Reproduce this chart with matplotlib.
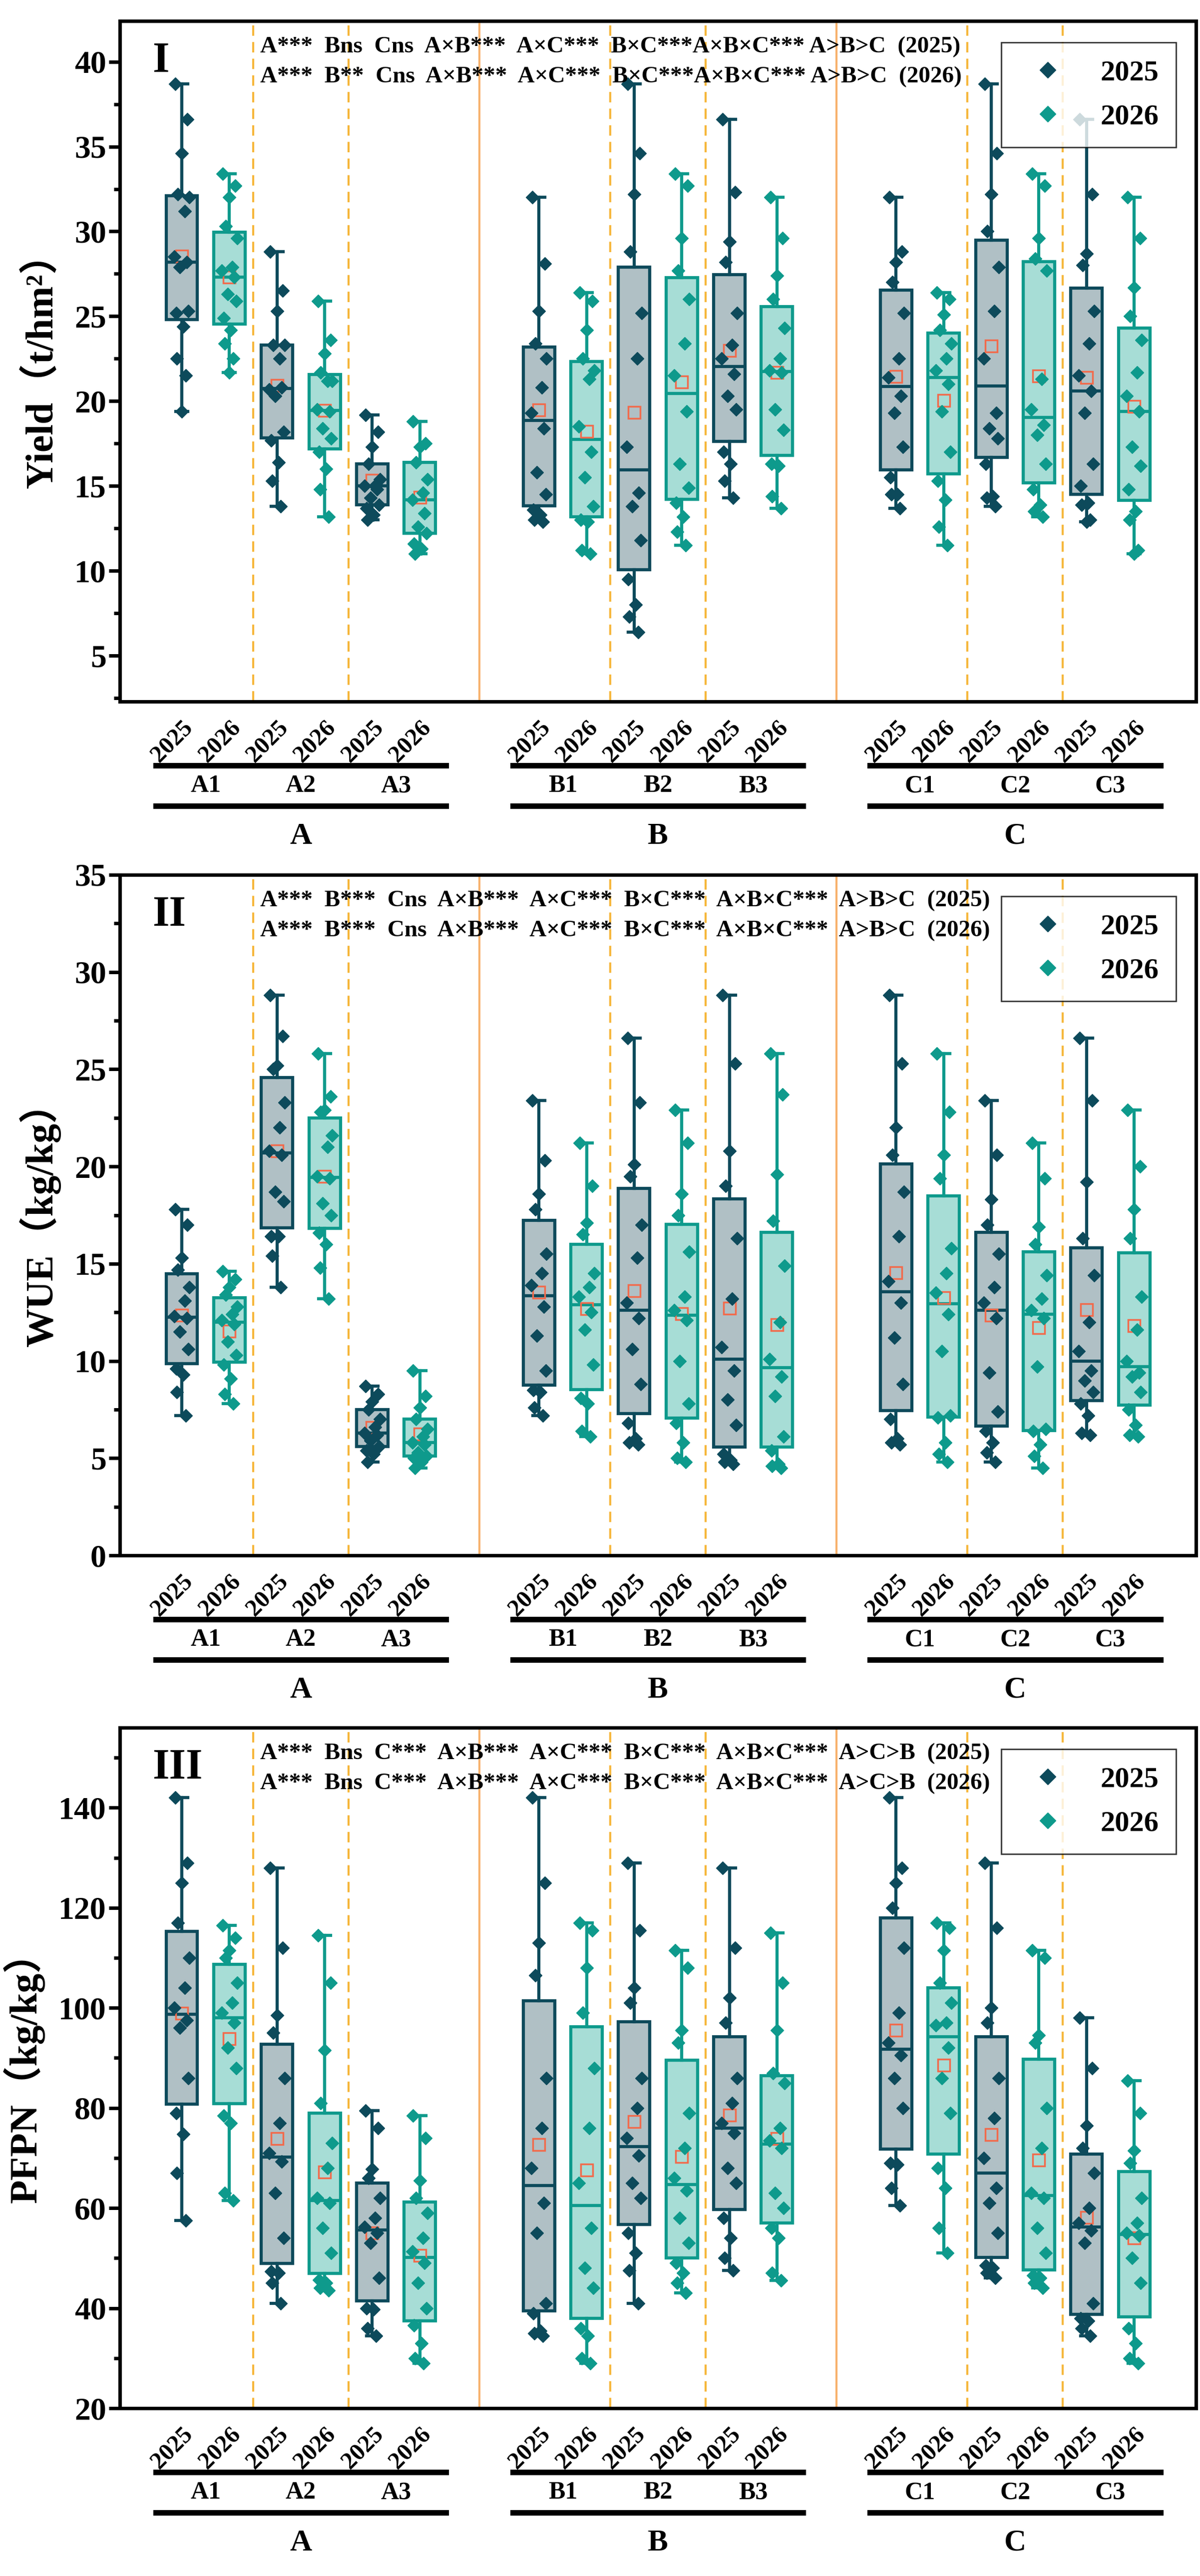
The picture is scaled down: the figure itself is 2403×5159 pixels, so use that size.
import numpy as np
import matplotlib.pyplot as plt
import matplotlib.transforms as mtransforms
from matplotlib.lines import Line2D

plt.rcParams['font.family'] = ['Liberation Serif', 'Noto Sans CJK SC']
plt.rcParams['font.weight'] = 'bold'

GROUPS = ['A', 'B', 'C']
LEVELS = [['A1', 'A2', 'A3'], ['B1', 'B2', 'B3'], ['C1', 'C2', 'C3']]
YEARS = ['2025', '2026']

# ---- Yield (t/hm2), boxes in order A1..A3, B1..B3, C1..C3
yield_2025 = [
    [38.7, 36.6, 34.6, 32.2, 32.0, 31.2, 28.5, 28.2, 27.9, 25.3, 25.2, 24.4, 22.5, 21.5, 19.4],
    [28.8, 26.5, 25.3, 23.3, 23.3, 22.5, 20.7, 20.8, 20.3, 18.2, 17.7, 16.4, 15.3, 13.8],
    [19.2, 18.2, 17.3, 16.3, 15.4, 15.0, 15.0, 14.8, 14.3, 13.9, 13.7, 13.3, 13.0],
    [32.0, 28.1, 25.3, 23.4, 22.5, 20.8, 19.3, 18.4, 15.8, 14.5, 13.6, 13.3, 13.0, 12.9],
    [38.7, 34.6, 32.2, 28.8, 25.2, 22.5, 17.3, 14.6, 13.8, 11.8, 9.5, 8.0, 7.3, 6.4],
    [36.6, 32.3, 29.4, 28.2, 25.2, 23.3, 22.5, 21.6, 20.3, 19.5, 17.0, 16.3, 15.3, 14.3],
    [32.0, 28.8, 28.2, 27.0, 25.2, 22.5, 21.4, 20.3, 19.3, 17.3, 15.5, 14.5, 14.5, 13.7],
    [38.7, 34.6, 32.2, 30.0, 27.9, 25.3, 22.5, 19.3, 18.4, 17.8, 16.3, 14.4, 14.3, 13.8],
    [36.6, 32.2, 28.7, 28.0, 25.3, 23.4, 21.5, 20.6, 19.3, 16.3, 15.0, 14.0, 13.9, 13.0, 12.9],
]
yield_2026 = [
    [33.4, 32.7, 32.0, 30.3, 29.6, 27.9, 27.7, 27.3, 26.3, 25.9, 24.9, 24.2, 23.4, 22.5, 21.7],
    [25.9, 23.6, 22.8, 21.7, 21.2, 21.2, 19.5, 19.4, 18.4, 17.8, 17.0, 16.0, 14.8, 13.2],
    [18.8, 17.5, 17.3, 16.4, 15.4, 14.6, 14.2, 13.4, 12.6, 12.2, 11.6, 11.3, 11.0],
    [26.4, 25.9, 24.2, 22.5, 21.8, 21.3, 18.5, 17.0, 15.5, 13.8, 13.0, 12.9, 11.2, 11.0],
    [33.4, 32.7, 29.6, 27.7, 26.0, 23.4, 21.5, 19.4, 16.3, 14.9, 14.0, 13.2, 12.3, 11.5],
    [32.0, 29.6, 27.4, 26.0, 24.3, 22.5, 21.8, 21.7, 19.5, 18.3, 16.3, 16.2, 14.4, 13.7],
    [26.4, 26.0, 25.1, 24.2, 23.4, 22.5, 21.8, 21.0, 19.4, 17.0, 15.3, 14.2, 12.6, 11.5],
    [33.4, 32.7, 29.6, 28.4, 27.7, 21.3, 19.5, 18.6, 18.0, 16.3, 14.8, 13.9, 13.5, 13.2],
    [32.0, 29.6, 26.7, 25.0, 23.6, 21.7, 20.3, 19.4, 17.3, 16.2, 14.8, 13.5, 13.0, 11.2, 11.0],
]

# ---- WUE (kg/kg)
wue_2025 = [
    [17.8, 17.0, 15.3, 14.7, 13.8, 13.1, 12.3, 12.2, 11.5, 10.6, 9.6, 9.3, 8.4, 7.2],
    [28.8, 26.7, 25.2, 25.0, 23.3, 22.0, 20.8, 20.6, 18.7, 18.2, 16.4, 16.4, 15.4, 13.8],
    [8.7, 8.3, 7.9, 7.5, 7.0, 6.6, 6.3, 6.2, 5.9, 5.6, 5.4, 5.2, 4.8],
    [23.4, 20.3, 18.6, 17.8, 15.5, 14.5, 13.9, 12.8, 11.3, 9.5, 8.5, 8.4, 7.6, 7.2],
    [26.6, 23.3, 20.1, 19.5, 17.0, 15.3, 13.0, 12.2, 10.6, 8.8, 6.8, 6.0, 5.8, 5.7],
    [28.8, 25.3, 20.8, 19.0, 16.3, 13.2, 10.7, 9.5, 8.0, 6.7, 5.2, 4.9, 4.8, 4.7],
    [28.8, 25.3, 22.0, 20.6, 18.7, 16.4, 14.1, 13.0, 11.2, 8.8, 7.0, 6.0, 5.8, 5.7],
    [23.4, 20.6, 18.3, 17.0, 15.5, 13.8, 13.0, 12.2, 9.4, 7.4, 6.4, 5.8, 5.3, 4.8],
    [26.6, 23.4, 19.2, 16.3, 14.4, 12.0, 10.5, 9.5, 9.0, 8.4, 7.8, 7.2, 6.3, 6.2],
]
wue_2026 = [
    [14.6, 14.2, 13.8, 13.4, 12.8, 12.4, 12.1, 11.9, 11.0, 10.3, 9.8, 9.1, 8.3, 7.8],
    [25.8, 23.6, 22.9, 22.8, 21.6, 21.0, 19.5, 19.4, 18.1, 17.5, 16.6, 16.0, 14.8, 13.2],
    [9.5, 8.2, 7.6, 7.0, 6.5, 6.1, 5.8, 5.7, 5.3, 5.1, 5.0, 4.8, 4.5],
    [21.2, 19.0, 17.1, 16.5, 14.5, 13.8, 13.3, 12.5, 11.6, 9.8, 8.1, 7.8, 6.4, 6.1],
    [22.9, 21.2, 18.6, 17.5, 15.6, 13.3, 12.6, 12.1, 10.0, 7.8, 6.8, 5.8, 5.0, 4.8],
    [25.8, 23.7, 19.6, 17.2, 14.9, 12.0, 10.1, 9.2, 8.2, 6.1, 5.4, 4.7, 4.6, 4.5],
    [25.8, 22.8, 20.6, 19.4, 15.8, 14.5, 13.5, 12.4, 10.5, 7.2, 7.1, 5.8, 5.2, 4.8],
    [21.2, 19.4, 16.9, 16.0, 14.4, 13.2, 12.6, 12.2, 9.7, 6.5, 6.4, 5.7, 5.1, 4.5],
    [22.9, 20.0, 17.8, 16.3, 13.3, 11.6, 10.0, 9.4, 9.2, 8.4, 7.5, 6.7, 6.2, 6.1],
]

# ---- PFPN (kg/kg)
pfpn_2025 = [
    [142, 129, 125, 117, 110, 104, 100, 97.5, 96, 86, 79, 74.8, 67, 57.5],
    [128, 112, 98.5, 95, 86, 77, 71, 69.3, 63, 54, 47.3, 47, 45, 41],
    [79.5, 76, 67.8, 66, 62, 58, 56.2, 55, 53, 46, 40, 39.8, 36, 34.5],
    [142, 125, 113, 106.5, 86, 76, 68, 61, 55, 41, 39, 35.5, 35, 34.5],
    [129, 115.5, 104, 101, 86, 80, 74, 70.5, 65, 62, 55, 51, 47.5, 41],
    [128, 112, 102, 97, 86, 81, 77, 75, 68, 65, 58, 54, 50, 47.5],
    [142, 128, 125, 120, 112, 99, 93, 90.5, 86, 80, 69, 68.7, 64, 60.5],
    [129, 116, 100, 97, 86, 78, 70, 64, 61, 55, 48.5, 48, 47, 46],
    [98, 88, 76.5, 72, 67, 60, 57, 55.5, 53, 41, 38, 37.5, 36, 34.5],
]
pfpn_2026 = [
    [116.5, 114, 111.5, 110, 105, 101, 99, 97, 92, 88, 78.5, 77, 63, 61.5],
    [114.5, 105, 91.5, 81, 73, 68, 62, 61, 56, 51, 45.6, 45, 44, 43.5],
    [78.5, 74, 65.5, 62, 59, 54, 51.3, 49, 45, 40, 36.6, 33, 30, 29],
    [117, 115.5, 108, 99, 88, 76, 65, 56, 48, 44, 36, 34.5, 30, 29],
    [111.5, 108, 95.5, 93, 79, 72, 66, 63.5, 58, 53, 49, 47, 45, 43],
    [115, 105, 95.5, 87, 85, 76, 73.5, 72, 63, 60, 56, 54, 47, 45.5],
    [117, 116, 111.5, 105, 101, 97, 96.5, 92, 86, 79, 68, 64, 56, 51],
    [111.5, 110, 94.5, 93, 80, 72, 63, 62, 56, 51, 46.5, 46, 45, 44],
    [85.5, 79, 71.5, 69, 62, 57, 55, 54.5, 50, 45, 36, 33, 30, 29],
]

stats_I = ["A***  Bns  Cns  A×B***  A×C***  B×C***A×B×C*** A>B>C  (2025)",
           "A***  B**  Cns  A×B***  A×C***  B×C***A×B×C*** A>B>C  (2026)"]
stats_II = ["A***  B***  Cns  A×B***  A×C***  B×C***  A×B×C***  A>B>C  (2025)",
            "A***  B***  Cns  A×B***  A×C***  B×C***  A×B×C***  A>B>C  (2026)"]
stats_III = ["A***  Bns  C***  A×B***  A×C***  B×C***  A×B×C***  A>C>B  (2025)",
             "A***  Bns  C***  A×B***  A×C***  B×C***  A×B×C***  A>C>B  (2026)"]

EDGE = {'2025': '#0d4a5b', '2026': '#0e9a8c'}
FILL = {'2025': '#b0c0c5', '2026': '#a7ddd6'}
MEAN_C = '#f26a4b'
DASH_C = '#f6b73c'
SOLID_C = '#f7b26e'
JIT = [-0.14, 0.12, 0.0, -0.08, 0.16, 0.06, -0.16, 0.1, -0.04, 0.14, -0.12, 0.03, -0.1, 0.08, 0.0]

GROUP_STEP = 7.5


def positions():
    pos = []
    for g in range(3):
        for l in range(3):
            base = g * GROUP_STEP + l * 2
            pos.append((base, base + 1))
    return pos


def draw_panel(ax, d25, d26, ylim, yticks, ylabel, tag, stats, minor):
    pos = positions()
    for data, year, k in [(d25, '2025', 0), (d26, '2026', 1)]:
        xs = [p[k] for p in pos]
        ax.boxplot(data, positions=xs, widths=0.66, whis=(0, 100), patch_artist=True,
                   showmeans=True, showfliers=False, capwidths=0.25,
                   boxprops=dict(facecolor=FILL[year], edgecolor=EDGE[year], linewidth=4.5),
                   whiskerprops=dict(color=EDGE[year], linewidth=4.5),
                   capprops=dict(color=EDGE[year], linewidth=4.5),
                   medianprops=dict(color=EDGE[year], linewidth=4.5),
                   meanprops=dict(marker='s', markerfacecolor='none', markeredgecolor=MEAN_C,
                                  markersize=17, markeredgewidth=2.5),
                   zorder=2)
        for x, vals in zip(xs, data):
            jx = [x + JIT[i % len(JIT)] for i in range(len(vals))]
            ax.plot(jx, vals, 'D', color=EDGE[year], markersize=13, ls='none', zorder=3)

    # separators
    for g in range(3):
        for l in range(2):
            ax.axvline(g * GROUP_STEP + l * 2 + 1.5, color=DASH_C, ls=(0, (5, 3)), lw=3, zorder=1)
    for g in range(2):
        ax.axvline(g * GROUP_STEP + 6.25, color=SOLID_C, lw=3, zorder=1)

    ax.set_xlim(-1.3, 21.3)
    ax.set_ylim(*ylim)
    ax.set_yticks(yticks)
    ax.set_yticks(minor, minor=True)
    ax.tick_params(axis='y', which='major', labelsize=46, length=16, width=5, direction='out')
    ax.tick_params(axis='y', which='minor', length=9, width=5, direction='out')
    ax.set_ylabel(ylabel, fontsize=56, fontweight='bold', labelpad=20)

    xt = [p for pair in pos for p in pair]
    ax.set_xticks(xt)
    ax.set_xticklabels(YEARS * 9, rotation=45, fontsize=35, fontweight='bold', ha='right',
                       rotation_mode='anchor')
    ax.tick_params(axis='x', length=0, pad=22)
    for s in ax.spines.values():
        s.set_linewidth(5)

    tr = mtransforms.blended_transform_factory(ax.transData, ax.transAxes)
    for g in range(3):
        x0 = g * GROUP_STEP - 0.55
        x1 = g * GROUP_STEP + 5.55
        for yy in (-0.094, -0.153):
            ax.add_line(Line2D([x0, x1], [yy, yy], transform=tr, color='black', lw=8,
                               clip_on=False))
        for l in range(3):
            ax.text(g * GROUP_STEP + l * 2 + 0.5, -0.124, LEVELS[g][l], transform=tr,
                    ha='center', va='center', fontsize=36, fontweight='bold')
        ax.text(g * GROUP_STEP + 2.5, -0.198, GROUPS[g], transform=tr, ha='center',
                va='center', fontsize=44, fontweight='bold')

    ax.text(0.03, 0.94, tag, transform=ax.transAxes, fontsize=62, fontweight='bold',
            ha='left', va='center')
    ax.text(1.65, 0.962, stats[0], transform=tr, fontsize=34, fontweight='bold', va='center')
    ax.text(1.65, 0.918, stats[1], transform=tr, fontsize=34, fontweight='bold', va='center')

    handles = [Line2D([], [], marker='D', color=EDGE[y], ls='none', markersize=16) for y in YEARS]
    leg = ax.legend(handles, YEARS, loc='upper right', bbox_to_anchor=(0.995, 0.99),
                    prop={'size': 42, 'weight': 'bold'}, frameon=True, fancybox=False,
                    edgecolor='black', handletextpad=0.8, borderpad=0.6, labelspacing=0.6)
    leg.get_frame().set_linewidth(2)


fig = plt.figure(figsize=(24.03, 51.59), dpi=100)
H = 5159.0
L, W = 0.0999, 0.8968
tops = [42, 1752, 3460]
ph = 1363

panels = [
    (yield_2025, yield_2026, (2.3, 42.4), np.arange(5, 41, 5), 'Yield（t/hm²）', 'I', stats_I,
     np.arange(2.5, 42.4, 2.5)),
    (wue_2025, wue_2026, (0, 35), np.arange(0, 36, 5), 'WUE（kg/kg）', 'II', stats_II,
     np.arange(0, 35.1, 2.5)),
    (pfpn_2025, pfpn_2026, (20, 156), np.arange(20, 141, 20), 'PFPN（kg/kg）', 'III', stats_III,
     np.arange(20, 156, 10)),
]

for top, (d25, d26, yl, yt, lab, tag, st, mn) in zip(tops, panels):
    ax = fig.add_axes([L, 1 - (top + ph) / H, W, ph / H])
    draw_panel(ax, d25, d26, yl, yt, lab, tag, st, mn)

fig.savefig('out.png', dpi=100)
